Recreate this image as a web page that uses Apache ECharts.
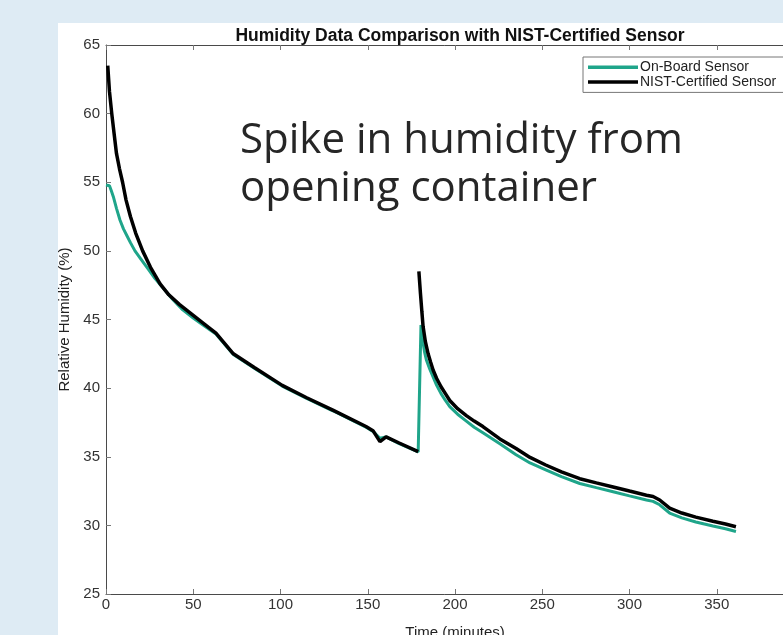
<!DOCTYPE html>
<html>
<head>
<meta charset="utf-8">
<script src="https://cdn.jsdelivr.net/npm/echarts@6/dist/echarts.min.js"></script>
<style>
  html, body { margin: 0; padding: 0; background: #deebf4; }
  #chart { width: 783px; height: 635px; }
</style>
</head>
<body>
<div id="chart"></div>
<script>
// ---- data ----
const titleText = 'Humidity Data Comparison with NIST-Certified Sensor';
const seriesNames = ['On-Board Sensor', 'NIST-Certified Sensor'];
const xTicks = [0, 50, 100, 150, 200, 250, 300, 350, 400];
const yTicks = [25, 30, 35, 40, 45, 50, 55, 60, 65];
const annotationLines = ['Spike in humidity from', 'opening container'];

const onboardTime = [0, 2, 3, 4.2, 6, 8, 10, 12, 14, 16.6, 20, 24, 28, 32, 38, 44, 50, 55, 63, 73, 85, 101, 115, 130, 149, 153, 157, 160.5, 168, 178.9,
  180.5, 181.7, 182.6, 183.6, 185.5, 187.5, 189.5, 192, 194.5, 197, 201.5, 206.5, 211, 216, 225.7, 235, 243, 252, 261, 271.5, 281, 290.6, 300, 309.7, 313.5, 317.3, 323, 330, 338, 347.8, 355, 361];
const onboardRH = [54.8, 54.75, 54.4, 53.95, 53.1, 52.25, 51.6, 51.1, 50.6, 50.0, 49.4, 48.7, 48.0, 47.4, 46.5, 45.7, 45.1, 44.65, 43.95, 42.45, 41.45, 40.15, 39.25, 38.35, 37.15, 36.85, 36.35, 36.45, 35.95, 35.35,
  44.6, 43.3, 42.6, 42.05, 41.4, 40.8, 40.2, 39.6, 39.1, 38.65, 38.1, 37.6, 37.15, 36.75, 35.95, 35.15, 34.55, 34.05, 33.55, 33.05, 32.75, 32.45, 32.15, 31.85, 31.75, 31.5, 30.9, 30.55, 30.25, 29.95, 29.75, 29.55];

const nistTime = [1, 2, 3.3, 4.5, 6, 7.7, 9.5, 11.5, 14, 17, 21, 25.5, 31, 36, 42, 50, 56, 63, 73, 85, 101, 115, 130, 149, 153, 157, 160.5, 168, 178.9, 179.1,
  179.3, 180.2, 181, 181.7, 183, 184.6, 186, 187.5, 189.5, 192, 194.5, 197, 201.5, 206.5, 211, 216, 225.7, 235, 243, 252, 261, 271.5, 281, 290.6, 300, 309.7, 313.5, 317.3, 323, 330, 338, 347.8, 355, 361];
const nistRH = [63.5, 61.6, 60.0, 58.7, 57.1, 56.0, 55.0, 53.7, 52.5, 51.3, 50.0, 48.8, 47.6, 46.8, 46.1, 45.3, 44.7, 44.0, 42.5, 41.5, 40.2, 39.3, 38.4, 37.2, 36.9, 36.1, 36.45, 36.0, 35.37, null,
  48.5, 46.9, 45.6, 44.5, 43.4, 42.5, 41.9, 41.3, 40.7, 40.1, 39.6, 39.1, 38.5, 38.0, 37.6, 37.2, 36.3, 35.6, 34.95, 34.4, 33.9, 33.4, 33.1, 32.8, 32.5, 32.2, 32.1, 31.85, 31.25, 30.9, 30.6, 30.3, 30.1, 29.9];

const pairs = (xs, ys) => xs.map((x, i) => [x, ys[i]]);

const chart = echarts.init(document.getElementById('chart'));
const font = 'Liberation Sans, Arial, Helvetica, sans-serif';
const axisCol = '#4a4a4a';

const option = {
  backgroundColor: '#deebf4',
  animation: false,
  title: {
    text: titleText,
    left: 455, top: 22, textAlign: 'center',
    textStyle: { fontFamily: font, fontSize: 17.5, fontWeight: 'bold', color: '#111' }
  },
  graphic: {
    elements: [
      { type: 'rect', z: -100, shape: { x: 58, y: 23, width: 760, height: 640 }, style: { fill: '#ffffff' } },
      { type: 'text', z: 100, x: 240, y: 141, style: { text: annotationLines[0], font: '42px "Open Sans"', fill: '#262626', textVerticalAlign: 'middle' } },
      { type: 'text', z: 100, x: 240, y: 189, style: { text: annotationLines[1], font: '42px "Open Sans"', fill: '#262626', textVerticalAlign: 'middle' } }
    ]
  },
  legend: {
    orient: 'vertical', left: 583, top: 57,
    itemWidth: 50, itemHeight: 3.5, itemGap: 0,
    padding: [3, 8, 3, 5],
    backgroundColor: '#ffffff', borderColor: '#777', borderWidth: 1, borderRadius: 0,
    textStyle: { fontFamily: font, fontSize: 14, color: '#222', lineHeight: 14.7, padding: [0, 0, 0, -3] },
    data: [{ name: seriesNames[0], icon: 'rect' }, { name: seriesNames[1], icon: 'rect' }]
  },
  grid: { left: 106, top: 45, right: -21, bottom: 41, outerBoundsMode: 'none', containLabel: false },
  xAxis: [{
    type: 'value', min: xTicks[0], max: xTicks[xTicks.length - 1], interval: 50,
    name: 'Time (minutes)', nameLocation: 'middle', nameGap: 31,
    nameTextStyle: { fontFamily: font, fontSize: 15, color: '#222' },
    axisLine: { show: true, lineStyle: { color: axisCol, width: 1 } },
    axisTick: { show: true, inside: true, length: 5, lineStyle: { color: '#777' } },
    axisLabel: { fontFamily: font, fontSize: 15, color: '#333', margin: 3 },
    splitLine: { show: false }
  }, {
    type: 'value', position: 'top', min: xTicks[0], max: xTicks[xTicks.length - 1], interval: 50,
    axisLine: { show: true, onZero: false, lineStyle: { color: axisCol, width: 1 } },
    axisTick: { show: true, inside: true, length: 5, lineStyle: { color: '#777' } },
    axisLabel: { show: false },
    splitLine: { show: false }
  }],
  yAxis: {
    type: 'value', min: yTicks[0], max: yTicks[yTicks.length - 1], interval: 5,
    name: 'Relative Humidity (%)', nameLocation: 'middle', nameGap: 24,
    nameTextStyle: { fontFamily: font, fontSize: 15, color: '#222' },
    axisLine: { show: true, lineStyle: { color: axisCol, width: 1 } },
    axisTick: { show: true, inside: true, length: 5, lineStyle: { color: '#777' } },
    axisLabel: { fontFamily: font, fontSize: 15, color: '#333', margin: 6 },
    splitLine: { show: false }
  },
  series: [{
    name: seriesNames[0], type: 'line', data: pairs(onboardTime, onboardRH),
    symbol: 'none', smooth: false,
    lineStyle: { color: '#1fa58a', width: 3 }, itemStyle: { color: '#1fa58a' }
  }, {
    name: seriesNames[1], type: 'line', data: pairs(nistTime, nistRH),
    symbol: 'none', smooth: false, connectNulls: false,
    lineStyle: { color: '#000000', width: 3.5 }, itemStyle: { color: '#000000' }
  }]
};
chart.setOption(option);
</script>
</body>
</html>
